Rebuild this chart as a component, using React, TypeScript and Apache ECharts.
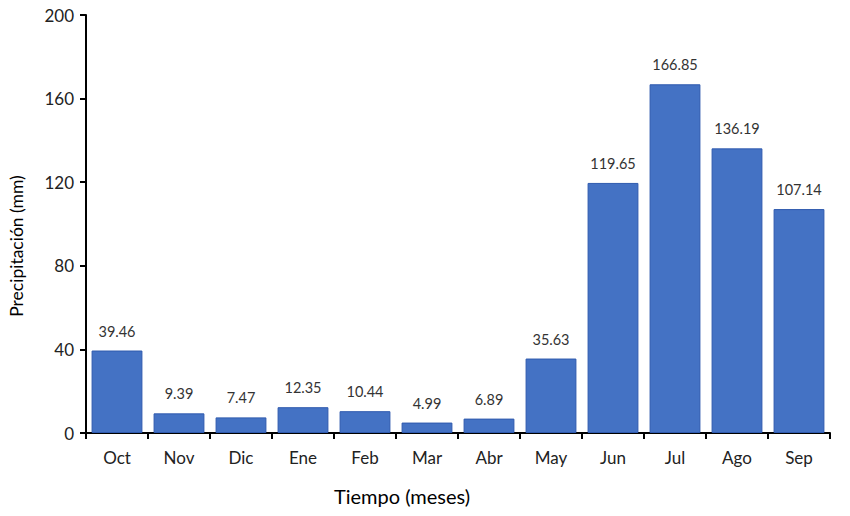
import React, { useEffect, useRef } from "react";
import * as echarts from "echarts";

const months = ["Oct", "Nov", "Dic", "Ene", "Feb", "Mar", "Abr", "May", "Jun", "Jul", "Ago", "Sep"];
const precip = [39.46, 9.39, 7.47, 12.35, 10.44, 4.99, 6.89, 35.63, 119.65, 166.85, 136.19, 107.14];
const yTitle = "Precipitación (mm)";
const xTitle = "Tiempo (meses)";

const FONT = "Lato, 'Open Sans', sans-serif";

export default function App() {
  const ref = useRef<HTMLDivElement>(null);
  useEffect(() => {
    if (!ref.current) return;
    const chart = echarts.init(ref.current, undefined, { renderer: "svg" });
    chart.setOption({
      animation: false,
      backgroundColor: "#ffffff",
      grid: { left: 86, right: 20, top: 15, bottom: 83, containLabel: false },
      xAxis: {
        type: "category",
        data: months,
        axisLine: { show: true, lineStyle: { color: "#000", width: 2 } },
        axisTick: { show: true, length: 6, alignWithLabel: false, lineStyle: { color: "#000", width: 2 } },
        axisLabel: { color: "#222", fontSize: 17, fontFamily: FONT, margin: 16 },
        splitLine: { show: false },
      },
      yAxis: {
        type: "value",
        min: 0,
        max: 200,
        interval: 40,
        axisLine: { show: true, lineStyle: { color: "#000", width: 2 } },
        axisTick: { show: true, length: 6, lineStyle: { color: "#000", width: 2 } },
        axisLabel: { color: "#222", fontSize: 17, fontFamily: FONT, margin: 12 },
        splitLine: { show: false },
      },
      graphic: [
        {
          type: "text",
          x: 402,
          y: 496,
          style: {
            text: xTitle,
            fill: "#000",
            font: `20px ${FONT}`,
            textAlign: "center",
            textVerticalAlign: "middle",
          },
        },
        {
          type: "text",
          x: 16,
          y: 246,
          rotation: Math.PI / 2,
          style: {
            text: yTitle,
            fill: "#000",
            font: `17.5px ${FONT}`,
            textAlign: "center",
            textVerticalAlign: "middle",
          },
        },
      ],
      series: [
        {
          type: "bar",
          data: precip,
          barCategoryGap: "18%",
          itemStyle: { color: "#4472C4", borderColor: "#2F5AAE", borderWidth: 1 },
          label: {
            show: true,
            position: "top",
            distance: 12,
            color: "#333",
            fontSize: 14.5,
            fontFamily: FONT,
            formatter: (p: any) => p.value.toFixed(2),
          },
        },
      ],
    });
    return () => chart.dispose();
  }, []);
  return <div ref={ref} style={{ width: 850, height: 516, position: "absolute", left: 0, top: 0 }} />;
}
